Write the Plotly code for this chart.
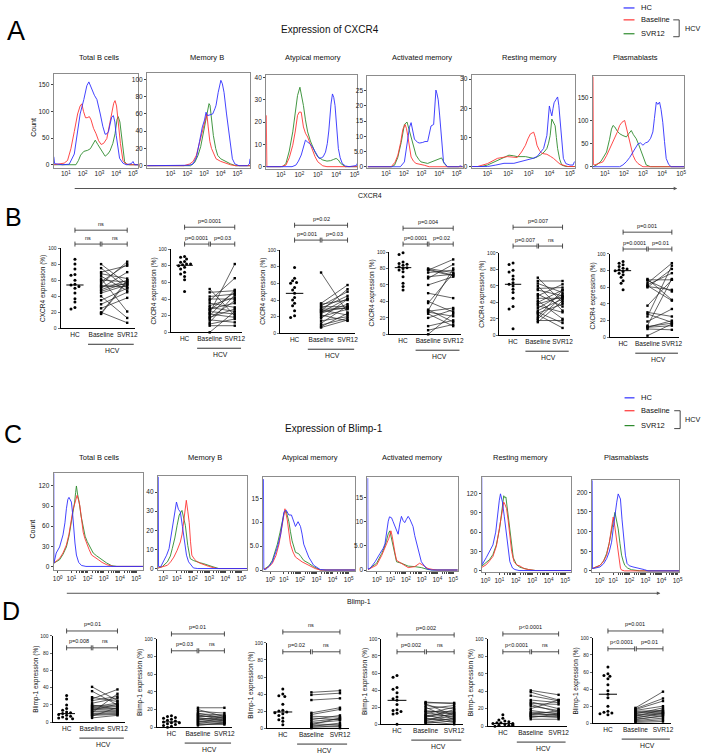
import numpy as np
import plotly.graph_objects as go

W, H = 708, 755
BLUE, RED, GREEN = "#2f2fff", "#ff3434", "#2e8b2e"
FONT = "Liberation Sans, Arial, sans-serif"

# ---------------- categories / labels ----------------
groups = ["HC", "Baseline", "SVR12"]
cell_types = ["Total B cells", "Memory B", "Atypical memory",
              "Activated memory", "Resting memory", "Plasmablasts"]
legend_names = ["HC", "Baseline", "SVR12"]
cx_tickvals = [1, 2, 3, 4, 5]
cx_ticktext = ["10<sup>1</sup>", "10<sup>2</sup>", "10<sup>3</sup>", "10<sup>4</sup>", "10<sup>5</sup>"]
bl_tickvals = [0.15, 1, 2, 3, 4, 5]
bl_ticktext = ["10<sup>0</sup>"] + cx_ticktext
dot_yticks = [0, 20, 40, 60, 80, 100]

# ---------------- CXCR4 histograms (x = log10 fluorescence, y = count) ----------------
cx_total_hc = [(0.28,15),(0.33,2),(0.8,0),(1.2,1),(1.5,20),(1.68,55),(1.85,95),(2.07,122),(2.25,148),(2.37,155),(2.5,145),(2.56,138),(2.7,130),(2.85,122),(2.95,110),(3.05,95),(3.2,72),(3.34,57),(3.45,58),(3.54,62),(3.65,78),(3.73,89),(3.83,92),(3.92,80),(4.0,55),(4.1,30),(4.2,12),(4.4,3),(4.6,0),(4.9,2),(5.0,6),(5.1,0),(5.3,0)]
cx_total_base = [(0.3,0),(0.6,1),(0.9,3),(1.1,8),(1.3,30),(1.5,62),(1.7,95),(1.85,110),(1.95,114),(2.05,100),(2.17,88),(2.27,88),(2.4,90),(2.5,84),(2.65,68),(2.8,58),(2.95,45),(3.1,38),(3.25,40),(3.44,49),(3.6,75),(3.73,98),(3.85,115),(3.93,120),(4.02,110),(4.12,80),(4.25,40),(4.4,8),(4.55,2),(4.8,0),(5.3,0)]
cx_total_svr = [(0.3,0),(1.6,0),(1.75,8),(1.88,18),(2.07,25),(2.3,27),(2.46,30),(2.6,38),(2.75,46),(2.9,38),(3.05,30),(3.2,22),(3.34,16),(3.5,20),(3.63,26),(3.8,40),(3.93,58),(4.05,85),(4.12,90),(4.22,80),(4.32,55),(4.42,25),(4.5,6),(4.65,0),(5.3,0)]

cx_mem_hc = [(-0.4,0),(1.5,0),(2.1,0.5),(2.34,2),(2.55,10),(2.73,28),(2.9,45),(3.03,53),(3.12,62),(3.2,58),(3.36,59),(3.52,60),(3.65,66),(3.72,70),(3.85,85),(4.01,99),(4.1,95),(4.2,85),(4.35,60),(4.5,35),(4.6,18),(4.7,8),(4.85,2),(5.1,0),(5.6,0),(5.72,2),(5.76,8)]
cx_mem_base = [(-0.4,0),(1.8,0),(2.14,2),(2.35,5),(2.54,12),(2.75,28),(2.93,43),(3.05,52),(3.17,60),(3.25,45),(3.35,28),(3.45,20),(3.6,12),(3.72,8),(4.0,5),(4.3,3),(4.6,1),(4.9,0),(5.77,0)]
cx_mem_svr = [(-0.4,0),(2.2,0),(2.45,4),(2.64,12),(2.8,22),(2.93,35),(3.1,55),(3.23,66),(3.3,72),(3.36,70),(3.45,52),(3.56,35),(3.7,20),(3.82,12),(4.0,8),(4.3,5),(4.6,2),(4.9,0),(5.77,0)]

cx_atyp_hc = [(0.2,0),(1.6,0),(1.81,0.7),(1.95,2.5),(2.1,5.2),(2.22,9),(2.33,11.9),(2.45,11),(2.55,10.4),(2.7,9),(2.8,7.4),(2.95,5.5),(3.07,3.7),(3.2,4),(3.29,4.4),(3.42,6.5),(3.52,10.4),(3.6,16),(3.65,21.5),(3.72,28),(3.8,32.6),(3.87,31),(3.94,27.4),(4.03,18),(4.12,8.1),(4.22,4),(4.33,1.5),(4.5,0.3),(4.7,0),(5.1,0.5),(5.15,1.5)]
cx_atyp_base = [(0.2,23),(0.23,0),(1.0,0),(1.27,0.7),(1.45,4),(1.64,9.6),(1.78,16),(1.9,23),(2.0,24.5),(2.1,24.4),(2.22,17.8),(2.33,15),(2.45,13.3),(2.6,10),(2.72,7.4),(2.85,4.5),(3.0,2.2),(3.27,0.4),(3.5,0),(5.16,0)]
cx_atyp_svr = [(0.2,0),(1.1,0),(1.27,1.5),(1.45,7),(1.64,15.6),(1.78,24),(1.9,31.9),(2.03,35.6),(2.12,32),(2.22,27.4),(2.33,21),(2.45,15.6),(2.6,11.5),(2.72,8.9),(2.85,6.5),(3.0,4.4),(3.27,3),(3.5,2.5),(3.7,2.7),(3.85,3.2),(4.0,3.7),(4.12,3),(4.24,1.5),(4.5,0),(5.16,0)]

cx_act_hc = [(-0.05,0),(1.8,0),(2.03,1.6),(2.12,5),(2.22,9.1),(2.32,13),(2.41,14.5),(2.5,12),(2.6,9.1),(2.78,8),(2.9,7.8),(3.07,8),(3.2,8.3),(3.35,8.3),(3.45,10.5),(3.54,13.4),(3.69,13.9),(3.76,20),(3.82,25.2),(3.88,24),(3.95,22),(4.03,17),(4.1,12.3),(4.18,6),(4.25,1.6),(4.47,0),(5.1,0),(5.2,0.3),(5.34,0)]
cx_act_base = [(-0.05,0),(1.28,0),(1.5,1.5),(1.66,3.8),(1.82,8),(1.94,12.3),(2.07,13.9),(2.15,12.5),(2.22,10.2),(2.32,6),(2.41,3.2),(2.55,1.8),(2.69,1.1),(3.16,0.5),(3.44,0),(5.34,0)]
cx_act_svr = [(-0.05,0),(1.3,0),(1.47,0.5),(1.65,3),(1.85,8),(2.03,13.9),(2.18,14.7),(2.3,12),(2.41,9.1),(2.55,6),(2.69,3.8),(2.85,2.4),(2.97,1.6),(3.35,1.1),(3.63,1.8),(3.85,2.3),(4.0,2.7),(4.14,2.9),(4.22,2),(4.29,1.1),(4.47,0),(5.34,0)]

cx_rest_hc = [(0.25,0),(1.0,0),(1.4,0.5),(1.8,1.1),(2.28,1.1),(2.6,1.7),(2.92,2.2),(3.2,2.8),(3.4,3.4),(3.6,5),(3.72,6.2),(3.88,10.7),(3.94,15),(4.0,20.8),(4.06,19),(4.12,17.4),(4.18,20),(4.23,21.9),(4.32,23),(4.4,23.9),(4.46,21),(4.52,15.2),(4.6,8),(4.68,2.8),(4.8,1),(5.0,0.5),(5.15,0.5),(5.22,1.7)]
cx_rest_base = [(0.25,0),(0.52,0),(1.0,1),(1.48,2.8),(1.96,3.4),(2.2,3.3),(2.44,3.1),(2.65,5),(2.84,7.3),(2.96,9.5),(3.08,11.2),(3.24,11.8),(3.32,10),(3.4,7.3),(3.52,5.5),(3.64,4.5),(3.88,4.2),(4.05,3.5),(4.2,2.8),(4.52,0.8),(4.9,0),(5.24,0)]
cx_rest_svr = [(0.25,0),(0.7,0),(1.0,0.5),(1.3,1.5),(1.64,2.8),(1.85,3.5),(2.04,3.9),(2.25,3.7),(2.44,3.4),(2.84,3.4),(3.04,3.1),(3.24,2.8),(3.4,3.3),(3.56,3.9),(3.75,5),(3.88,6.2),(3.96,8),(4.04,10.7),(4.12,16.3),(4.2,15),(4.28,14),(4.34,10),(4.4,6.2),(4.5,2.5),(4.6,0.5),(4.8,0),(5.24,0)]

cx_plasma_hc = [(0.38,0),(1.78,0),(1.95,4),(2.13,11),(2.3,20),(2.48,32),(2.6,42),(2.74,50),(2.87,52),(3.0,47),(3.13,52),(3.26,54),(3.4,62),(3.52,76),(3.6,105),(3.7,141),(3.78,136),(3.87,141),(3.95,125),(4.04,97),(4.13,55),(4.22,18),(4.35,5),(4.48,0),(5.16,0)]
cx_plasma_base = [(0.38,197),(0.4,5),(0.48,4),(0.7,7),(0.91,11),(1.1,25),(1.26,40),(1.4,52),(1.52,61),(1.65,75),(1.78,90),(1.9,97),(2.04,101),(2.12,88),(2.22,68),(2.35,45),(2.48,25),(2.6,14),(2.74,7),(3.0,0),(5.16,0)]
cx_plasma_svr = [(0.38,0),(0.57,4),(0.8,12),(1.09,32),(1.25,60),(1.35,82),(1.43,90),(1.52,87),(1.65,78),(1.78,72),(1.95,68),(2.13,65),(2.25,72),(2.39,79),(2.5,70),(2.65,61),(2.78,48),(2.91,32),(3.05,15),(3.17,4),(3.4,0),(5.16,0)]

# ---------------- Blimp-1 histograms (x = display decades, y = count) ----------------
bl_total_hc = [(-0.09,139),(-0.08,5),(0.06,20),(0.27,29),(0.48,47),(0.6,65),(0.69,86),(0.78,100),(0.85,103),(0.92,100),(1.0,96),(1.07,80),(1.14,56),(1.22,35),(1.31,17),(1.45,6),(1.62,1.5),(1.9,0),(5.43,0)]
bl_total_base = [(-0.08,5),(0.1,9),(0.27,12),(0.48,20),(0.69,32),(0.85,48),(1.0,71),(1.1,85),(1.2,93),(1.28,101),(1.35,106),(1.43,100),(1.52,91),(1.62,72),(1.73,51),(1.83,42),(1.94,34),(2.1,25),(2.25,17),(2.45,13),(2.67,10),(2.9,6),(3.19,2.5),(3.6,0),(5.43,0)]
bl_total_svr = [(-0.08,5),(0.1,8),(0.27,10),(0.48,18),(0.69,29),(0.85,45),(1.0,66),(1.1,82),(1.2,96),(1.26,110),(1.31,120),(1.38,108),(1.48,96),(1.6,75),(1.73,56),(1.85,45),(1.98,37),(2.15,28),(2.35,20),(2.55,16),(2.77,12),(2.97,8),(3.19,5),(3.5,1),(3.81,0),(5.43,0)]

bl_mem_hc = [(-0.15,48),(-0.13,1),(0.01,1),(0.21,4.3),(0.37,7),(0.52,10.4),(0.62,16),(0.72,22.6),(0.85,30),(0.98,34.8),(1.1,31),(1.22,29.6),(1.35,22),(1.47,13.9),(1.6,7),(1.73,3.5),(2.03,0.3),(2.3,0),(5.36,0)]
bl_mem_base = [(-0.15,0.3),(0.1,0.8),(0.42,1.7),(0.62,3.5),(0.82,6),(1.02,9.5),(1.22,13.9),(1.33,18),(1.43,24),(1.52,31),(1.59,35.7),(1.68,30),(1.77,24),(1.85,14),(1.93,7),(2.08,5),(2.23,3.8),(2.44,2.8),(2.64,2.1),(2.95,1.2),(3.24,0.5),(3.5,0),(5.36,0)]
bl_mem_svr = [(-0.15,0.3),(0.1,1),(0.42,3.5),(0.6,6.5),(0.72,10.4),(0.88,16),(1.02,22.6),(1.15,28),(1.32,30.4),(1.42,27),(1.53,22.6),(1.68,12),(1.83,5.2),(2.03,4.2),(2.23,3.5),(2.44,3),(2.64,2.6),(2.95,1.6),(3.24,0.9),(3.6,0),(5.36,0)]

bl_atyp_hc = [(-0.27,19),(-0.25,0.2),(-0.13,0.1),(0.08,0.8),(0.28,1.7),(0.45,3.2),(0.59,4.7),(0.79,7.4),(0.9,10),(1.0,12.2),(1.14,12.5),(1.3,11.5),(1.46,11.5),(1.61,10.1),(1.71,9.1),(1.87,10.1),(2.02,9.1),(2.12,7.5),(2.22,5.4),(2.38,4),(2.53,2.7),(2.83,1),(3.24,0.1),(3.6,0),(5.42,0)]
bl_atyp_base = [(-0.25,0.1),(0.08,0.7),(0.28,1.4),(0.5,3),(0.69,5.4),(0.89,9.5),(1.06,12.8),(1.2,10.5),(1.3,8),(1.4,5.4),(1.55,3.8),(1.71,2.7),(2.12,1.7),(2.53,1),(2.93,0.3),(3.24,0),(5.42,0)]
bl_atyp_svr = [(-0.25,0.1),(0.08,0.9),(0.28,2),(0.45,3.8),(0.59,5.4),(0.75,7.8),(0.89,10.1),(1.0,11.8),(1.14,12.3),(1.3,10.1),(1.4,8),(1.5,6.1),(1.71,3.7),(1.91,3.4),(2.05,2.8),(2.22,2),(2.53,1.4),(2.83,0.7),(3.24,0),(5.42,0)]

bl_act_hc = [(-0.44,19),(-0.42,0.2),(-0.29,0.3),(0.03,1.7),(0.34,3.4),(0.55,4.5),(0.66,5.4),(0.77,8),(0.87,10.1),(0.95,11),(1.08,10.8),(1.18,10),(1.29,9.1),(1.5,7.4),(1.6,9.5),(1.71,11.1),(1.82,10.2),(1.92,9.8),(2.03,10.5),(2.14,11.1),(2.25,10.5),(2.35,9.8),(2.45,9),(2.56,7.1),(2.67,5.5),(2.77,4.1),(2.98,1.7),(3.3,0.3),(3.61,0),(5.3,0)]
bl_act_base = [(-0.42,0.1),(0.13,1),(0.45,3),(0.6,4),(0.76,5.4),(0.9,6.5),(1.04,8.1),(1.12,7),(1.19,5.4),(1.3,3.5),(1.4,2),(1.71,1.4),(2.14,0.5),(2.56,0.7),(2.75,1.1),(2.87,1.4),(3.08,1),(3.4,0.3),(3.72,0.1),(4.0,0),(5.3,0)]
bl_act_svr = [(-0.42,0.1),(0.13,1.4),(0.45,3.4),(0.6,4.5),(0.76,6.1),(0.87,7.5),(0.97,8.1),(1.08,6.5),(1.19,4.7),(1.3,3),(1.4,1.7),(1.71,1.4),(2.14,0.8),(2.56,0.7),(2.98,0.5),(3.4,0.1),(3.7,0),(5.3,0)]

bl_rest_hc = [(-0.07,146),(-0.05,9),(0.2,20),(0.4,30),(0.61,40),(0.78,60),(0.92,97),(1.0,110),(1.07,120),(1.13,113),(1.19,107),(1.3,85),(1.4,61),(1.52,35),(1.64,14),(1.8,4),(1.95,1.5),(2.2,0),(5.36,0)]
bl_rest_base = [(-0.06,5),(0.2,9),(0.4,15),(0.61,22),(0.82,38),(1.02,66),(1.15,90),(1.27,107),(1.35,103),(1.44,97),(1.54,78),(1.64,56),(1.75,30),(1.89,14),(2.05,9),(2.26,7),(2.5,3),(2.78,1.5),(3.2,0),(5.36,0)]
bl_rest_svr = [(-0.06,7),(0.2,12),(0.4,17),(0.61,25),(0.82,40),(1.02,66),(1.15,95),(1.22,112),(1.27,117),(1.33,114),(1.4,115),(1.52,90),(1.64,66),(1.75,40),(1.85,20),(2.05,9),(2.26,5),(2.78,1.5),(3.2,0),(5.36,0)]

bl_plasma_hc = [(-0.31,231),(-0.29,6),(-0.23,6),(0.18,10),(0.4,18),(0.59,31),(0.75,48),(0.9,73),(1.01,110),(1.11,145),(1.22,175),(1.31,196),(1.38,190),(1.45,183),(1.55,130),(1.66,73),(1.76,40),(1.86,19),(2.0,13),(2.23,10),(2.5,8),(2.75,6),(2.95,3),(3.16,0),(5.1,0)]
bl_plasma_base = [(-0.29,6),(0.18,14),(0.4,25),(0.59,40),(0.75,70),(0.9,111),(0.95,125),(1.0,137),(1.06,125),(1.14,100),(1.21,73),(1.3,40),(1.37,19),(1.45,7),(1.52,2),(1.7,0),(5.1,0)]
bl_plasma_svr = [(-0.29,6),(0.18,14),(0.4,25),(0.59,44),(0.75,70),(0.9,99),(1.0,125),(1.11,149),(1.2,130),(1.31,107),(1.42,70),(1.52,40),(1.62,25),(1.72,14),(1.9,7),(2.13,3),(2.64,0),(5.1,0)]

# ---------------- CXCR4 expression (%) ----------------
cxcr4_total_hc = [86, 80, 74, 67, 66, 60, 55, 54, 52, 50, 44, 37, 33, 26, 24]
cxcr4_total_base = [80, 75, 70, 68, 65, 62, 60, 58, 55, 53, 52, 50, 48, 46, 44, 40, 35, 30, 25, 20, 19, 18]
cxcr4_total_svr = [55, 50, 78, 62, 47, 21, 58, 80, 83, 55, 52, 70, 60, 57, 54, 13, 50, 45, 38, 7, 60, 58]
cxcr4_mem_hc = [91, 90, 88, 85, 84, 82, 82, 81, 80, 78, 76, 72, 70, 67, 63, 49]
cxcr4_mem_base = [52, 48, 43, 40, 38, 35, 32, 30, 28, 27, 25, 23, 22, 20, 18, 17, 15, 12, 10, 8, 0]
cxcr4_mem_svr = [20, 50, 46, 40, 65, 30, 42, 25, 35, 48, 22, 82, 18, 51, 28, 38, 12, 45, 16, 8, 25]
cxcr4_atyp_hc = [79, 66, 63, 61, 60, 55, 52, 48, 43, 40, 36, 33, 27, 21, 19]
cxcr4_atyp_base = [73, 36, 35, 33, 32, 30, 29, 28, 27, 26, 25, 24, 22, 20, 18, 15, 12, 10, 8, 7]
cxcr4_atyp_svr = [25, 58, 40, 50, 32, 45, 30, 22, 53, 31, 42, 35, 15, 29, 41, 20, 33, 18, 24, 16]
cxcr4_act_hc = [99, 97, 88, 86, 85, 84, 82, 81, 80, 78, 76, 70, 62, 58, 54]
cxcr4_act_base = [80, 79, 78, 78, 75, 70, 68, 60, 50, 40, 38, 30, 29, 28, 27, 25, 20, 10, 5, 0]
cxcr4_act_svr = [75, 72, 91, 71, 78, 73, 85, 70, 44, 27, 74, 15, 80, 32, 22, 10, 30, 17, 12, 25]
cxcr4_rest_hc = [88, 86, 79, 77, 72, 68, 64, 62, 60, 56, 52, 45, 35, 32, 8]
cxcr4_rest_base = [70, 66, 63, 60, 57, 55, 50, 48, 45, 42, 40, 38, 36, 33, 30, 28, 27, 25, 22, 20, 18, 16]
cxcr4_rest_svr = [40, 66, 52, 30, 58, 48, 35, 62, 45, 20, 55, 47, 28, 50, 44, 15, 38, 9, 55, 47, 18, 42]
cxcr4_plasma_hc = [91, 89, 87, 85, 83, 82, 81, 80, 79, 77, 75, 72, 68, 65, 57]
cxcr4_plasma_base = [70, 69, 68, 65, 63, 62, 61, 60, 38, 30, 28, 25, 19, 14, 13, 12, 12, 10, 2]
cxcr4_plasma_svr = [45, 69, 55, 89, 77, 44, 57, 82, 69, 25, 18, 86, 34, 70, 17, 14, 20, 9, 16]

# ---------------- Blimp-1 expression (%) ----------------
blimp_total_hc = [31, 27, 20, 16, 14, 12, 11, 10, 9, 8, 7, 6, 5, 4, 4]
blimp_total_base = [41, 36, 29, 27, 25, 22, 20, 19, 18, 17, 16, 15, 14, 13, 12, 11, 10, 9, 8, 7, 5]
blimp_total_svr = [25, 20, 24, 38, 30, 28, 15, 19, 22, 18, 16, 14, 21, 13, 12, 33, 11, 10, 9, 17, 8]
blimp_mem_hc = [13, 12, 11, 10, 9, 8, 7, 6, 5, 5, 4, 3, 2, 1, 0]
blimp_mem_base = [22, 20, 18, 16, 15, 14, 13, 12, 11, 10, 9, 8, 7, 6, 5, 4, 3, 2]
blimp_mem_svr = [22, 12, 16, 10, 14, 8, 11, 13, 7, 9, 6, 12, 5, 10, 4, 8, 3, 5]
blimp_atyp_hc = [46, 40, 38, 37, 28, 21, 20, 19, 18, 17, 15, 12, 10, 8, 4]
blimp_atyp_base = [42, 39, 33, 18, 16, 14, 12, 10, 8, 6, 5, 4, 3, 2, 1, 0]
blimp_atyp_svr = [44, 41, 35, 24, 22, 13, 10, 15, 11, 9, 4, 12, 2, 6, 3, 0]
blimp_act_hc = [57, 55, 43, 41, 37, 32, 30, 28, 23, 17, 16, 15, 13, 12, 0]
blimp_act_base = [26, 25, 24, 22, 20, 18, 16, 15, 14, 12, 11, 10, 9, 8, 7, 6, 5, 4, 3, 2, 1]
blimp_act_svr = [24, 25, 10, 18, 5, 22, 12, 15, 8, 20, 3, 14, 11, 17, 2, 9, 6, 13, 0, 7, 4]
blimp_rest_hc = [13, 9, 7, 6, 5, 4, 4, 3, 3, 2, 2, 1, 1, 1, 0]
blimp_rest_base = [41, 39, 35, 30, 28, 26, 25, 23, 20, 18, 16, 15, 14, 13, 12, 11, 10, 8]
blimp_rest_svr = [36, 30, 29, 27, 20, 25, 16, 18, 30, 14, 15, 12, 13, 18, 10, 11, 14, 8]
blimp_plasma_hc = [66, 58, 56, 55, 52, 45, 38, 34, 30, 20, 14, 13, 12, 11, 10]
blimp_plasma_base = [18, 17, 16, 15, 14, 13, 12, 11, 10, 9, 8, 7, 6, 5, 4, 3, 2, 1]
blimp_plasma_svr = [37, 29, 26, 20, 15, 14, 13, 18, 12, 11, 16, 10, 12, 8, 9, 6, 4, 2]

# p-value labels: [HC vs SVR12, HC vs Baseline, Baseline vs SVR12]
cxcr4_pvals = [["ns", "ns", "ns"], ["p=0.0001", "p=0.0001", "p=0.03"], ["p=0.02", "p=0.001", "p=0.03"],
               ["p=0.004", "p=0.0001", "p=0.02"], ["p=0.007", "p=0.007", "ns"], ["p=0.001", "p=0.0001", "p=0.01"]]
blimp_pvals = [["p=0.01", "p=0.008", "ns"], ["p=0.01", "p=0.03", "ns"], ["ns", "p=0.02", "ns"],
               ["p=0.002", "p=0.002", "ns"], ["p<0.0001", "p<0.0001", "ns"], ["p=0.001", "p<0.0001", "p=0.01"]]

# ---------------- figure building ----------------
fig = go.Figure()
layout = {}
shapes = []
annotations = []
counter = [0]


def X(p):
    return p / W


def Y(p):
    return 1 - p / H


def new_axes():
    counter[0] += 1
    s = "" if counter[0] == 1 else str(counter[0])
    return "x" + s, "y" + s, "xaxis" + s, "yaxis" + s


def text(x, y, t, size=7.5, xanchor="center", yanchor="middle", angle=0, color="#111", xref="paper", yref="paper"):
    annotations.append(dict(x=x, y=y, xref=xref, yref=yref, text=t, showarrow=False,
                            xanchor=xanchor, yanchor=yanchor, textangle=angle,
                            font=dict(size=size, color=color, family=FONT)))


def hist_panel(box, xr, yr, ytv, ytt, xtv, xtt, curves, minor=False, xticks=""):
    xa, ya, xk, yk = new_axes()
    l, r, t, b = box
    xd = dict(domain=[X(l), X(r)], range=xr, anchor=ya, showline=True, mirror=True,
              linecolor="#8c8c8c", linewidth=1, ticks=xticks, ticklen=2, tickcolor="#444",
              tickvals=xtv, ticktext=xtt, tickangle=0, tickfont=dict(size=6.5, color="#222", family=FONT),
              showgrid=False, zeroline=False)
    if minor:
        mv = [d + np.log10(k) for d in range(1, 5) for k in range(2, 10)]
        xd["minor"] = dict(tickvals=mv, ticks="outside", ticklen=1.5, tickcolor="#444")
    layout[xk] = xd
    layout[yk] = dict(domain=[Y(b), Y(t)], range=yr, anchor=xa, showline=True, mirror=True,
                      linecolor="#8c8c8c", linewidth=1, ticks="outside", ticklen=2, tickcolor="#444",
                      tickvals=ytv, ticktext=ytt, tickfont=dict(size=6.5, color="#222", family=FONT),
                      showgrid=False, zeroline=False)
    for pts, col in curves:
        xs, ys = zip(*pts)
        fig.add_trace(go.Scatter(x=list(xs), y=list(ys), mode="lines", xaxis=xa, yaxis=ya,
                                 line=dict(color=col, width=0.9), showlegend=False, hoverinfo="skip"))


def swarm_offsets(vals, xppu, yppu, d=3.2, step=2.0):
    placed = []
    offs = [0.0] * len(vals)
    for i in np.argsort(vals)[::-1]:
        v = vals[i]
        dx = 0.0
        for k in [0, -1, 1, -2, 2, -3, 3, -4, 4, -5, 5]:
            dx = k * step
            if all((dx - px_) ** 2 + ((v - pv) * yppu) ** 2 >= d * d for px_, pv in placed):
                break
        placed.append((dx, v))
        offs[i] = dx / xppu
    return offs


XR = [-0.55, 2.3]


def dot_panel(geo, hc, base, svr, pv, ytitle):
    axis_px, end_px, y0, y100, top, low = geo
    xa, ya, xk, yk = new_axes()
    layout[xk] = dict(domain=[X(axis_px), X(end_px)], range=XR, anchor=ya, showline=True,
                      linecolor="black", linewidth=1, ticks="", tickvals=[0, 1, 2], ticktext=groups,
                      tickangle=0, tickfont=dict(size=6.5, color="#111", family=FONT),
                      showgrid=False, zeroline=False)
    layout[yk] = dict(domain=[Y(y0), Y(y100)], range=[0, 100], anchor=xa, showline=True,
                      linecolor="black", linewidth=1, ticks="outside", ticklen=2, tickwidth=0.8,
                      tickvals=dot_yticks, tickfont=dict(size=5, color="#222", family=FONT),
                      showgrid=False, zeroline=False)
    xppu = (end_px - axis_px) / (XR[1] - XR[0])
    yppu = (y0 - y100) / 100.0
    lx, ly = [], []
    for b_, s_ in zip(base, svr):
        lx += [1, 2, None]
        ly += [b_, s_, None]
    fig.add_trace(go.Scatter(x=lx, y=ly, mode="lines", xaxis=xa, yaxis=ya, cliponaxis=False,
                             line=dict(color="#222", width=0.7), showlegend=False, hoverinfo="skip"))
    fig.add_trace(go.Scatter(x=[1] * len(base) + [2] * len(svr), y=list(base) + list(svr), mode="markers",
                             xaxis=xa, yaxis=ya, cliponaxis=False,
                             marker=dict(symbol="square", size=2.4, color="black"), showlegend=False, hoverinfo="skip"))
    offs = swarm_offsets(hc, xppu, yppu)
    fig.add_trace(go.Scatter(x=offs, y=hc, mode="markers", xaxis=xa, yaxis=ya, cliponaxis=False,
                             marker=dict(symbol="circle", size=3.0, color="black"), showlegend=False, hoverinfo="skip"))
    med = float(np.median(hc))
    fig.add_trace(go.Scatter(x=[-0.33, 0.33], y=[med, med], mode="lines", xaxis=xa, yaxis=ya,
                             line=dict(color="black", width=1), showlegend=False, hoverinfo="skip"))

    def bracket(x0, x1, ypx, label):
        yp = Y(ypx)
        c = 2.5 / H
        ln = dict(color="#222", width=0.8)
        shapes.append(dict(type="line", xref=xa, yref="paper", x0=x0, x1=x1, y0=yp, y1=yp, line=ln))
        for xx in (x0, x1):
            shapes.append(dict(type="line", xref=xa, yref="paper", x0=xx, x1=xx, y0=yp - c, y1=yp + c, line=ln))
        text((x0 + x1) / 2, Y(ypx - 1.5), label, size=5.5, yanchor="bottom", xref=xa)
    bracket(0, 2, top, pv[0])
    bracket(0, 0.97, low, pv[1])
    bracket(1.03, 2, low, pv[2])
    shapes.append(dict(type="line", xref=xa, yref="paper", x0=0.5, x1=2.25, y0=Y(y0 + 16), y1=Y(y0 + 16),
                       line=dict(color="#333", width=1)))
    text(1.45, Y(y0 + 22), "HCV", size=6.8, xref=xa)
    text(X(axis_px - 17), Y((y0 + y100) / 2), ytitle, size=6.5, angle=-90)


# ---------- Row A ----------
A_boxes = [(53, 138, 72, 166), (147, 251, 71, 166), (267, 359, 73, 167),
           (369, 465, 74, 166), (474, 578, 73, 166), (596, 688, 74, 166)]
A_xr = [[0.27, 5.3], [-0.42, 5.77], [0.19, 5.16], [-0.07, 5.34], [0.23, 5.24], [0.37, 5.16]]
A_yr = [[-5.5, 169], [-2.3, 107], [-0.9, 40.9], [-0.3, 29.7], [-0.4, 31.3], [-2, 197]]
A_yt = [[0, 50, 100, 150], [0, 20, 40, 60, 80, 100], [0, 10, 20, 30, 40],
        [0, 5, 10, 15, 20, 25], [0, 10, 20, 30], [0, 50, 100, 150]]
A_ytt = [["0", "50", "100", "150"], ["0", "20", "40", "60", "80", "100"], ["0", "10", "20", "30", "40"],
         ["0", "5.0", "10", "15", "20", "25"], ["0", "10", "20", "30"], ["0", "50", "100", "150"]]
A_curves = [(cx_total_svr, cx_total_base, cx_total_hc), (cx_mem_svr, cx_mem_base, cx_mem_hc),
            (cx_atyp_svr, cx_atyp_base, cx_atyp_hc), (cx_act_svr, cx_act_base, cx_act_hc),
            (cx_rest_svr, cx_rest_base, cx_rest_hc), (cx_plasma_svr, cx_plasma_base, cx_plasma_hc)]
A_title_x = [99, 207, 314, 424, 532, 639]
for i in range(6):
    s, bse, hc = A_curves[i]
    hist_panel(A_boxes[i], A_xr[i], A_yr[i], A_yt[i], A_ytt[i], cx_tickvals, cx_ticktext,
               [(s, GREEN), (bse, RED), (hc, BLUE)])
    text(X(A_title_x[i]), Y(55), cell_types[i], size=7.5)

# ---------- Row C ----------
C_boxes = [(53, 143, 474, 572), (158, 248, 477, 572), (264, 357, 478, 573),
           (369, 460, 478, 573), (484, 574, 478, 574), (595, 683, 481, 574)]
C_xr = [[-0.1, 5.43], [-0.17, 5.36], [-0.29, 5.42], [-0.46, 5.3], [-0.08, 5.36], [-0.33, 5.1]]
C_yr = [[-6, 139], [-1, 48.3], [-0.3, 19.4], [-0.3, 19.2], [-3, 146], [-4, 231]]
C_yt = [[0, 30, 60, 90, 120], [0, 10, 20, 30, 40], [0, 5, 10, 15], [0, 5, 10, 15],
        [0, 30, 60, 90, 120], [0, 50, 100, 150, 200]]
C_ytt = [["0", "30", "60", "90", "120"], ["0", "10", "20", "30", "40"], ["0", "5.0", "10", "15"],
         ["0", "5.0", "10", "15"], ["0", "30", "60", "90", "120"], ["0", "50", "100", "150", "200"]]
C_curves = [(bl_total_svr, bl_total_base, bl_total_hc), (bl_mem_svr, bl_mem_base, bl_mem_hc),
            (bl_atyp_svr, bl_atyp_base, bl_atyp_hc), (bl_act_svr, bl_act_base, bl_act_hc),
            (bl_rest_svr, bl_rest_base, bl_rest_hc), (bl_plasma_svr, bl_plasma_base, bl_plasma_hc)]
C_title_x = [99, 205, 311, 414, 523, 630]
for i in range(6):
    s, bse, hc = C_curves[i]
    hist_panel(C_boxes[i], C_xr[i], C_yr[i], C_yt[i], C_ytt[i], bl_tickvals, bl_ticktext,
               [(s, GREEN), (bse, RED), (hc, BLUE)], minor=True, xticks="outside")
    text(X(C_title_x[i]), Y(458), cell_types[i], size=7.5)

# ---------- Row B & D ----------
B_geo = [(60, 135, 328, 247, 229, 243), (171, 243, 332, 248, 226, 243), (281, 357, 333, 249, 224, 239),
         (391, 463, 334, 251, 227, 243), (502, 573, 335, 252, 226, 245), (613, 683, 337, 253, 231, 248)]
D_geo = [(52, 125, 725, 638, 633, 650), (157, 233, 730, 641, 636, 653), (268, 350, 731, 645, 634, 654),
         (383, 465, 727, 641, 637, 654), (490, 570, 729, 641, 636, 654), (596, 675, 726, 640, 633, 651)]
B_data = [(cxcr4_total_hc, cxcr4_total_base, cxcr4_total_svr), (cxcr4_mem_hc, cxcr4_mem_base, cxcr4_mem_svr),
          (cxcr4_atyp_hc, cxcr4_atyp_base, cxcr4_atyp_svr), (cxcr4_act_hc, cxcr4_act_base, cxcr4_act_svr),
          (cxcr4_rest_hc, cxcr4_rest_base, cxcr4_rest_svr), (cxcr4_plasma_hc, cxcr4_plasma_base, cxcr4_plasma_svr)]
D_data = [(blimp_total_hc, blimp_total_base, blimp_total_svr), (blimp_mem_hc, blimp_mem_base, blimp_mem_svr),
          (blimp_atyp_hc, blimp_atyp_base, blimp_atyp_svr), (blimp_act_hc, blimp_act_base, blimp_act_svr),
          (blimp_rest_hc, blimp_rest_base, blimp_rest_svr), (blimp_plasma_hc, blimp_plasma_base, blimp_plasma_svr)]
for i in range(6):
    dot_panel(B_geo[i], *B_data[i], cxcr4_pvals[i], "CXCR4 expression (%)")
    dot_panel(D_geo[i], *D_data[i], blimp_pvals[i], "Blimp-1 expression (%)")

# ---------- global text, arrows, legends ----------
for lab, x, y, sz in [("A", 15, 28, 27), ("B", 13, 216, 25), ("C", 12, 434, 25), ("D", 10, 613, 25)]:
    text(X(x), Y(y), lab, size=sz, color="black")
text(X(331), Y(27), "Expression of CXCR4", size=10)
text(X(335), Y(429), "Expression of Blimp-1", size=10)
text(X(32), Y(125), "Count", size=7, angle=-90)
text(X(32), Y(530), "Count", size=7, angle=-90)
text(X(372), Y(194), "CXCR4", size=7)
text(X(361), Y(604), "Blimp-1", size=7)

for (x0, x1, y) in [(77, 681, 187), (69, 664, 595)]:
    annotations.append(dict(x=X(x1), y=Y(y), ax=-(x1 - x0), ay=0, xref="paper", yref="paper",
                            text="", showarrow=True,
                            arrowhead=2, arrowsize=0.7, arrowwidth=1, arrowcolor="#555"))

for (lx0, lx1, ys, bx) in [(627, 638, (5, 17, 31), 683), (628, 638, (398, 411, 426), 684)]:
    for name, col, yy in zip(legend_names, [BLUE, RED, GREEN], ys):
        shapes.append(dict(type="line", xref="paper", yref="paper", x0=X(lx0), x1=X(lx1),
                           y0=Y(yy), y1=Y(yy), line=dict(color=col, width=1.2)))
        text(X(lx1 + 5), Y(yy), name, size=7.5, xanchor="left")
    ln = dict(color="#333", width=0.9)
    shapes.append(dict(type="line", xref="paper", yref="paper", x0=X(bx), x1=X(bx),
                       y0=Y(ys[1]), y1=Y(ys[2] + 3), line=ln))
    for yy in (ys[1], ys[2] + 3):
        shapes.append(dict(type="line", xref="paper", yref="paper", x0=X(bx - 6), x1=X(bx),
                           y0=Y(yy), y1=Y(yy), line=ln))
    text(X(706), Y((ys[1] + ys[2] + 3) / 2), "HCV", size=7.2, xanchor="right")

fig.update_layout(**layout)
fig.update_layout(width=W, height=H, margin=dict(l=0, r=0, t=0, b=0), autosize=False,
                  paper_bgcolor="white", plot_bgcolor="white", showlegend=False,
                  font=dict(family=FONT, size=7, color="#111"),
                  shapes=shapes, annotations=annotations)
fig.write_html("out.html", config={"displayModeBar": False, "staticPlot": True},
               post_script="document.body.style.margin='0px';document.body.style.padding='0px';"
                           "document.body.style.overflow='hidden';")
